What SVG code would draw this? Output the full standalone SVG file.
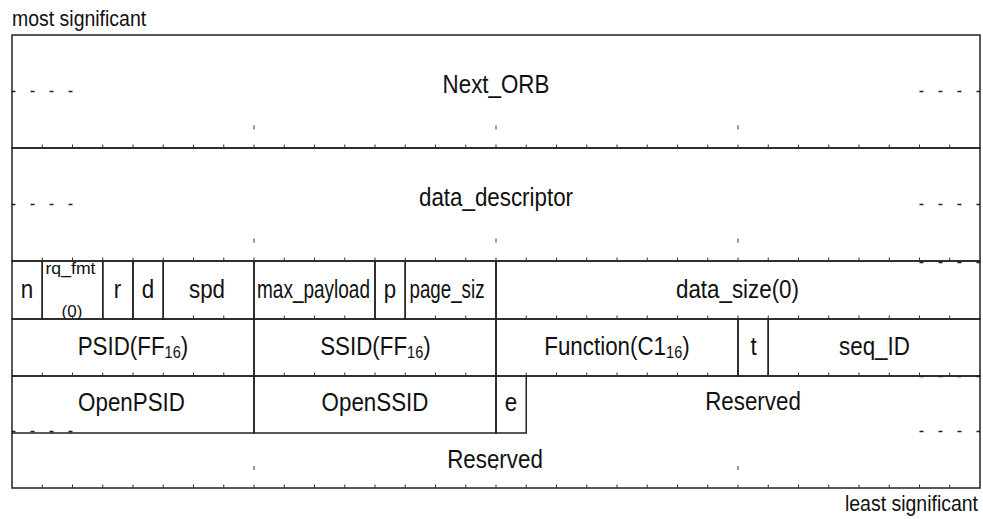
<svg xmlns="http://www.w3.org/2000/svg" xmlns:xlink="http://www.w3.org/1999/xlink" width="983" height="519" viewBox="0 0 983 519">
<defs>
<style>
.f{fill:none;stroke:#222;stroke-width:1.5}
.t,.tl,.s,.m{font-family:"Liberation Sans",Arial,sans-serif;fill:#111;text-anchor:middle}
.t{font-size:26px;transform-box:fill-box;transform-origin:center;transform:scaleX(0.86)}
.tl{font-size:26px}
.s{font-size:17px}
.m{font-size:22px;transform-box:fill-box;transform-origin:left;transform:scaleX(0.885);text-anchor:start}
.me{transform-origin:right;text-anchor:end}
.tk{fill:none;stroke:#333;stroke-width:1}
.dash{fill:none;stroke:#222;stroke-width:1.3;stroke-dasharray:4 15}
</style>
<path id="tk" class="tk" d="M42.25 -3.5V0M72.5 -3.5V0M102.75 -3.5V0M133 -3.5V0M163.25 -3.5V0M193.5 -3.5V0M223.75 -3.5V0M254 -3.5V0M284.25 -3.5V0M314.5 -3.5V0M344.75 -3.5V0M375 -3.5V0M405.25 -3.5V0M435.5 -3.5V0M465.75 -3.5V0M496 -3.5V0M526.25 -3.5V0M556.5 -3.5V0M586.75 -3.5V0M617 -3.5V0M647.25 -3.5V0M677.5 -3.5V0M707.75 -3.5V0M738 -3.5V0M768.25 -3.5V0M798.5 -3.5V0M828.75 -3.5V0M859 -3.5V0M889.25 -3.5V0M919.5 -3.5V0M949.75 -3.5V0"/>
<path id="bt" class="tk" d="M254 -2V2M496 -2V2M738 -2V2"/>
<path id="dl" class="dash" d="M72.5 0H11.5"/>
<path id="dr" class="dash" d="M919.5 0H980"/>
</defs>
<rect width="983" height="519" fill="#fff"/>
<text class="m" x="12" y="26">most significant</text>
<text class="m me" x="978" y="511">least significant</text>

<g id="next_orb"><rect class="f" x="12" y="35" width="968" height="113"/><text class="t" x="496" y="93.5">Next_ORB</text></g>
<g id="data_descriptor"><rect class="f" x="12" y="148" width="968" height="113"/><text class="t" x="496" y="206.5">data_descriptor</text></g>

<g id="n"><rect class="f" x="12" y="261" width="30.25" height="58"/><text class="t" x="27" y="298">n</text></g>
<g id="rq_fmt"><rect class="f" x="42.25" y="261" width="60.5" height="58"/><text class="s" x="70.5" y="274" textLength="50" lengthAdjust="spacingAndGlyphs">rq_fmt</text><text class="s" x="72" y="317">(0)</text></g>
<g id="r"><rect class="f" x="102.75" y="261" width="30.25" height="58"/><text class="t" x="117.5" y="298">r</text></g>
<g id="d"><rect class="f" x="133" y="261" width="30.25" height="58"/><text class="t" x="148" y="298">d</text></g>
<g id="spd"><rect class="f" x="163.25" y="261" width="90.75" height="58"/><text class="t" x="207" y="298">spd</text></g>
<g id="max_payload"><rect class="f" x="254" y="261" width="121" height="58"/><text class="tl" x="313.5" y="298" textLength="113" lengthAdjust="spacingAndGlyphs">max_payload</text></g>
<g id="p"><rect class="f" x="375" y="261" width="30.25" height="58"/><text class="t" x="390" y="298">p</text></g>
<g id="page_siz"><rect class="f" x="405.25" y="261" width="90.75" height="58"/><text class="tl" x="447" y="298" textLength="75" lengthAdjust="spacingAndGlyphs">page_siz</text></g>
<g id="data_size"><rect class="f" x="496" y="261" width="484" height="58"/><text class="t" x="737.5" y="298">data_size(0)</text></g>

<g id="psid"><rect class="f" x="12" y="319" width="242" height="57"/><text class="t" x="133" y="355.5">PSID(FF<tspan font-size="17" dy="3">16</tspan><tspan dy="-3">)</tspan></text></g>
<g id="ssid"><rect class="f" x="254" y="319" width="242" height="57"/><text class="t" x="375.5" y="355.5">SSID(FF<tspan font-size="17" dy="3">16</tspan><tspan dy="-3">)</tspan></text></g>
<g id="function"><rect class="f" x="496" y="319" width="242" height="57"/><text class="t" x="617" y="355.5">Function(C1<tspan font-size="17" dy="3">16</tspan><tspan dy="-3">)</tspan></text></g>
<g id="t"><rect class="f" x="738" y="319" width="30.25" height="57"/><text class="t" x="753.5" y="355.5">t</text></g>
<g id="seq_id"><rect class="f" x="768.25" y="319" width="211.75" height="57"/><text class="t" x="874.5" y="355.5">seq_ID</text></g>

<g id="openpsid"><rect class="f" x="12" y="376" width="242" height="57"/><text class="t" x="131.5" y="411.5">OpenPSID</text></g>
<g id="openssid"><rect class="f" x="254" y="376" width="242" height="57"/><text class="t" x="375" y="411.5">OpenSSID</text></g>
<g id="e"><rect class="f" x="496" y="376" width="30.25" height="57"/><text class="t" x="511" y="411.5">e</text></g>
<g id="reserved_a"><path class="f" d="M526.25 376H980V433"/><text class="t" x="753" y="410">Reserved</text></g>
<g id="reserved_b"><path class="f" d="M12 433V488H980V433"/><text class="t" x="495" y="468">Reserved</text></g>

<g id="marks">
<use xlink:href="#tk" y="148"/>
<use xlink:href="#tk" y="261"/>
<use xlink:href="#tk" y="319"/>
<use xlink:href="#tk" y="376"/>
<use xlink:href="#tk" y="488"/>
<use xlink:href="#bt" y="127.5"/>
<use xlink:href="#bt" y="240.5"/>
<use xlink:href="#bt" y="468"/>
<use xlink:href="#dl" y="91.5"/>
<use xlink:href="#dr" y="91.5"/>
<use xlink:href="#dl" y="204.5"/>
<use xlink:href="#dr" y="204.5"/>
<use xlink:href="#dr" y="262.5"/>
<use xlink:href="#dr" y="376.5"/>
<use xlink:href="#dl" y="431.5"/>
<use xlink:href="#dr" y="431.5"/>
</g>
</svg>
